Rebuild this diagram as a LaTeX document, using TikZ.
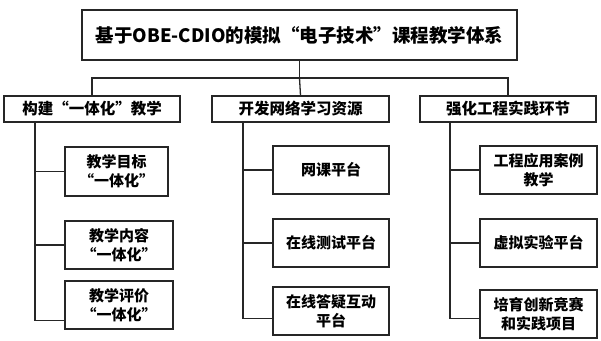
\documentclass[tikz,border=0pt]{standalone}
\usepackage{fontspec}
\setmainfont{Noto Sans CJK SC}
\begin{document}
\begin{tikzpicture}[x=1pt,y=-1pt,
  box/.style={draw=black!85,line width=1.3pt,inner sep=0pt,align=center,font=\bfseries\fontsize{15}{19}\selectfont},
  conn/.style={draw=black!85,line width=1.3pt}]
\useasboundingbox (0,0) rectangle (601,340);
% top
\node[box,minimum width=435pt,minimum height=50pt,font=\bfseries\fontsize{18.5}{22}\selectfont] (top) at (299.5,35) {基于OBE-CDIO的模拟“电子技术”课程教学体系};
% level 2
\node[box,minimum width=176pt,minimum height=26pt,font=\bfseries\fontsize{15.5}{19}\selectfont] (A) at (92,109) {构建“一体化”教学};
\node[box,minimum width=177pt,minimum height=26pt,font=\bfseries\fontsize{15.5}{19}\selectfont] (B) at (300.5,109) {开发网络学习资源};
\node[box,minimum width=176pt,minimum height=26pt,font=\bfseries\fontsize{15.5}{19}\selectfont] (C) at (508,109) {强化工程实践环节};
% children left
\node[box,minimum width=103pt,minimum height=49pt] (A1) at (116.5,171.5) {教学目标\\“一体化”};
\node[box,minimum width=108pt,minimum height=48pt] (A2) at (119,245) {教学内容\\“一体化”};
\node[box,minimum width=108pt,minimum height=48pt] (A3) at (119,305) {教学评价\\“一体化”};
% children middle
\node[box,minimum width=116pt,minimum height=48pt] (B1) at (331,170) {网课平台};
\node[box,minimum width=116pt,minimum height=48pt] (B2) at (331,243) {在线测试平台};
\node[box,minimum width=116pt,minimum height=48pt] (B3) at (331,311) {在线答疑互动\\平台};
% children right
\node[box,minimum width=117pt,minimum height=48pt] (C1) at (538.5,170) {工程应用案例\\教学};
\node[box,minimum width=117pt,minimum height=48pt] (C2) at (538.5,243) {虚拟实验平台};
\node[box,minimum width=117pt,minimum height=48pt] (C3) at (538.5,314) {培育创新竞赛\\和实践项目};
% top connectors
\coordinate (bus) at (299.5,78);
\draw[conn] (top.south) -- (bus);
\draw[conn] (A.north) |- (bus) -| (C.north);
\draw[conn] (bus) -- (B.north);
% column rails
\coordinate (ax) at (35,0);
\coordinate (bx) at (243,0);
\coordinate (cx) at (450,0);
\draw[conn] (A.south -| ax) |- ([yshift=9pt]A3.south west);
\draw[conn] (ax |- A1.west) -- (A1.west);
\draw[conn] (ax |- A2.west) -- (A2.west);
\draw[conn] (B.south -| bx) |- ([yshift=17pt]B3.south west);
\draw[conn] (bx |- B1.west) -- (B1.west);
\draw[conn] (bx |- B2.west) -- (B2.west);
\draw[conn] (C.south -| cx) |- ([yshift=20pt]C3.south west);
\draw[conn] (cx |- C1.west) -- (C1.west);
\draw[conn] (cx |- C2.west) -- (C2.west);
\end{tikzpicture}
\end{document}
